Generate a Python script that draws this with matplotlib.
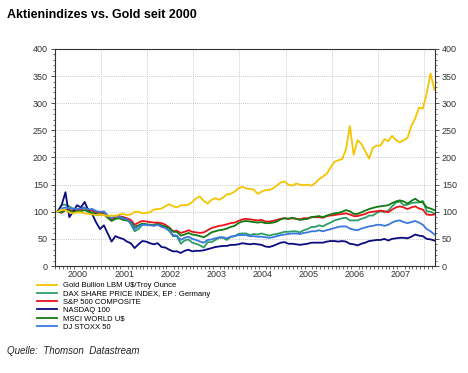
import numpy as np
import matplotlib
matplotlib.use('Agg')
import matplotlib.pyplot as plt
from matplotlib.ticker import MultipleLocator, FixedLocator, FixedFormatter

plt.rcParams['font.family'] = ['Liberation Sans', 'DejaVu Sans']

# monthly samples, first one early Jan 2000, last one end of March 2008
start = 2000.06
n_points = 99

gold = [100, 104, 103, 99, 97, 99, 99, 97, 96, 95, 94, 95,        # 2000
        94, 92, 93, 92, 95, 96, 94, 95, 100, 100, 97, 98,         # 2001
        99, 104, 105, 106, 110, 114, 110, 108, 112, 112, 113, 118,  # 2002
        125, 128, 120, 115, 122, 125, 122, 126, 132, 133, 137, 143,  # 2003
        146, 143, 142, 141, 133, 137, 140, 140, 143, 148, 154, 156,  # 2004
        150, 148, 152, 150, 149, 150, 148, 153, 160, 165, 170, 182,  # 2005
        192, 195, 197, 215, 258, 205, 232, 225, 212, 198, 218, 222,  # 2006
        222, 234, 230, 240, 232, 228, 232, 236, 258, 272, 292, 290,  # 2007
        318, 355, 325]                                               # 2008

dax = [101, 113, 113, 110, 105, 102, 107, 108, 101, 105, 94, 95,
       101, 92, 86, 93, 91, 90, 87, 77, 64, 68, 76, 76,
       76, 75, 80, 75, 71, 65, 55, 55, 41, 47, 49, 43,
       41, 38, 34, 44, 44, 48, 52, 52, 48, 54, 55, 59,
       60, 60, 57, 59, 58, 60, 58, 56, 58, 59, 61, 63,
       63, 64, 64, 62, 66, 68, 72, 72, 75, 73, 77, 80,
       84, 86, 88, 89, 84, 84, 84, 87, 89, 93, 93, 98,
       101, 99, 102, 110, 117, 119, 112, 113, 116, 117, 117, 120,
       101, 100, 97]

sp500 = [100, 98, 104, 104, 101, 103, 104, 107, 104, 102, 99, 98,
         97, 90, 85, 90, 92, 90, 88, 85, 76, 80, 83, 82,
         81, 80, 80, 79, 76, 71, 64, 65, 61, 63, 66, 63,
         62, 61, 62, 66, 70, 72, 74, 75, 77, 79, 80, 83,
         86, 87, 86, 85, 84, 85, 82, 82, 83, 85, 87, 88,
         87, 88, 87, 86, 88, 88, 90, 90, 90, 89, 92, 93,
         94, 95, 96, 97, 95, 92, 92, 94, 96, 99, 100, 101,
         102, 101, 99, 104, 108, 110, 108, 105, 108, 110, 106, 104,
         95, 94, 95]

nasdaq = [100, 112, 136, 90, 100, 112, 108, 118, 102, 95, 80, 68,
          75, 60, 45, 55, 52, 50, 45, 42, 33, 40, 46, 45,
          42, 40, 42, 35, 34, 30, 27, 27, 24, 28, 30, 27,
          28, 28, 29, 31, 33, 35, 36, 37, 37, 39, 39, 40,
          42, 41, 40, 41, 40, 39, 36, 35, 37, 40, 43, 44,
          41, 41, 40, 39, 40, 41, 43, 43, 43, 43, 45, 46,
          46, 45, 46, 45, 41, 40, 38, 41, 43, 46, 47, 48,
          48, 50, 47, 50, 51, 52, 52, 51, 54, 58, 56, 55,
          50, 49, 47]

msci = [100, 99, 103, 102, 99, 101, 101, 103, 100, 98, 96, 95,
        95, 89, 83, 87, 88, 85, 84, 81, 72, 75, 78, 77,
        76, 75, 77, 74, 73, 70, 63, 63, 56, 58, 61, 58,
        57, 55, 53, 57, 62, 64, 66, 67, 69, 72, 74, 79,
        82, 83, 82, 81, 80, 81, 79, 79, 80, 82, 86, 88,
        87, 89, 87, 85, 86, 87, 90, 91, 92, 90, 93, 95,
        97, 98, 100, 103, 101, 96, 96, 99, 102, 105, 107, 109,
        110, 111, 112, 116, 119, 121, 119, 115, 120, 124, 119, 117,
        108, 106, 103]

stoxx = [100, 106, 108, 106, 106, 105, 106, 107, 104, 105, 101, 100,
         100, 93, 88, 92, 91, 88, 86, 80, 68, 73, 76, 76,
         75, 74, 76, 72, 70, 65, 57, 56, 48, 52, 54, 50,
         48, 45, 43, 48, 49, 51, 53, 53, 51, 54, 55, 57,
         57, 57, 55, 55, 54, 54, 53, 52, 53, 55, 57, 58,
         59, 60, 60, 59, 61, 62, 64, 64, 66, 64, 66, 68,
         70, 72, 73, 73, 69, 67, 66, 69, 71, 73, 74, 76,
         76, 74, 76, 80, 83, 84, 81, 79, 81, 83, 80, 76,
         68, 64, 58]

labels = ['Gold Bullion LBM U$/Troy Ounce',
          'DAX SHARE PRICE INDEX, EP : Germany',
          'S&P 500 COMPOSITE',
          'NASDAQ 100',
          'MSCI WORLD U$',
          'DJ STOXX 50']
colors = ['#f5c400', '#2e9e66', '#e8141a', '#0a0a80', '#127a12', '#3a78e0']
years = [2000, 2001, 2002, 2003, 2004, 2005, 2006, 2007]

t = start + np.arange(n_points) / 12.0

fig = plt.figure(figsize=(4.68, 3.73), dpi=100)
ax = fig.add_axes([55/468, 107/373, 380/468, 217/373])

series = [gold, dax, sp500, nasdaq, msci, stoxx]
# draw gold last so it sits on top, like the original
order = [1, 2, 3, 4, 5, 0]
lines = [None] * 6
for i in order:
    lines[i], = ax.plot(t, series[i], color=colors[i], lw=1.3, label=labels[i])

ax.set_xlim(2000.0, 2008.24)
ax.set_ylim(0, 400)

# grid
for y in range(50, 400, 50):
    ax.axhline(y, color='#b8b8b8', lw=0.6, ls=(0, (1, 1.5)), zorder=0)
for yr in years[1:] + [2008]:
    ax.axvline(yr, color='#b8b8b8', lw=0.6, ls=(0, (1, 1.5)), zorder=0)

ax.yaxis.set_major_locator(MultipleLocator(50))
ax.yaxis.set_minor_locator(MultipleLocator(10))
ax.tick_params(axis='y', which='both', direction='out', left=True, right=True,
               labelleft=True, labelright=True, labelsize=6.5, colors='#333333', pad=2)
ax.tick_params(axis='y', which='major', length=3, width=0.6)
ax.tick_params(axis='y', which='minor', length=1.5, width=0.5)

ax.xaxis.set_major_locator(FixedLocator([y + 0.5 for y in years]))
ax.xaxis.set_major_formatter(FixedFormatter([str(y) for y in years]))
ax.xaxis.set_minor_locator(MultipleLocator(1/12))
ax.tick_params(axis='x', which='major', length=0, labelsize=6.5, colors='#333333', pad=3)
ax.tick_params(axis='x', which='minor', direction='out', length=2, width=0.5, color='#333333')

for s in ax.spines.values():
    s.set_color('#333333')
    s.set_linewidth(0.8)

fig.text(7/468, 1 - 15/373, 'Aktienindizes vs. Gold seit 2000', fontsize=9,
         fontweight='bold', va='center', ha='left')

fig.legend(handles=lines, labels=labels, loc='upper left',
           bbox_to_anchor=(37/468, 1 - 282/373), frameon=False, fontsize=5.5,
           labelspacing=0.12, handlelength=2.6, handletextpad=0.8,
           borderpad=0, borderaxespad=0)

fig.text(7/468, 1 - 351/373, 'Quelle:  Thomson  Datastream', fontsize=7,
         style='italic', va='center', ha='left', color='#222222')

fig.savefig('out.png', dpi=100)
